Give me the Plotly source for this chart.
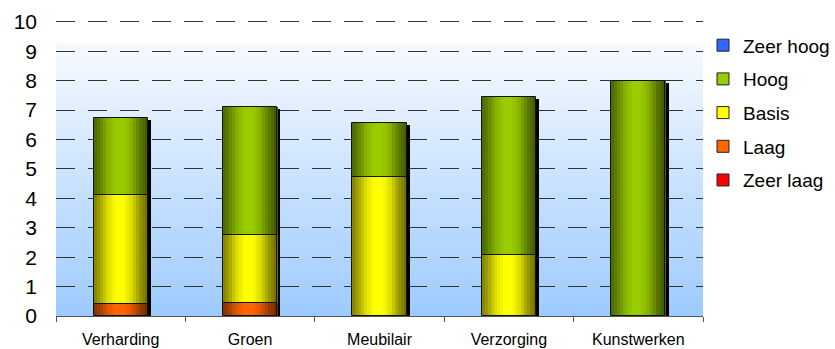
import numpy as np
import plotly.graph_objects as go

# ---------------- data ----------------
categories = ["Verharding", "Groen", "Meubilair", "Verzorging", "Kunstwerken"]
zeer_laag = [0, 0, 0, 0, 0]
laag = [0.41, 0.45, 0, 0, 0]
basis = [3.69, 2.31, 4.71, 2.07, 0]
hoog = [2.63, 4.35, 1.84, 5.37, 8.0]
zeer_hoog = [0, 0, 0, 0, 0]
y_ticks = [0, 1, 2, 3, 4, 5, 6, 7, 8, 9, 10]

series_names = ["Zeer laag", "Laag", "Basis", "Hoog", "Zeer hoog"]
series_values = [zeer_laag, laag, basis, hoog, zeer_hoog]
series_colors = ["#FF0000", "#FF6600", "#FFFF00", "#99CC00", "#3366FF"]

# ---------------- style ----------------
FONT = "Liberation Sans, Arial, sans-serif"
BAR_W = 0.42
N_SLICES = 18
shade_t = [0.0, 0.1, 0.25, 0.4, 0.55, 0.7, 0.85, 1.0]
shade_f = [0.50, 0.62, 0.86, 1.0, 1.0, 0.86, 0.60, 0.42]


def hex_rgb(h):
    h = h.lstrip("#")
    return [int(h[i:i + 2], 16) for i in (0, 2, 4)]


def shade(hexcol, f):
    r, g, b = hex_rgb(hexcol)
    return "rgb(%d,%d,%d)" % (int(r * f), int(g * f), int(b * f))


fig = go.Figure()

# legend entries (top to bottom)
for name, col in reversed(list(zip(series_names, series_colors))):
    fig.add_trace(go.Bar(
        x=[None], y=[None], name=name, legendgroup=name,
        marker=dict(color=col, line=dict(color="#222222", width=1)),
        showlegend=True, hoverinfo="skip"))

# totals and bases
vals = np.array(series_values, dtype=float)
bases = np.vstack([np.zeros(len(categories)), np.cumsum(vals, axis=0)[:-1]])
totals = vals.sum(axis=0)

# shadow
fig.add_trace(go.Bar(
    x=categories, y=totals - 0.07, base=[0] * len(categories),
    width=BAR_W, offset=-BAR_W / 2 + 0.024,
    marker=dict(color="#000000", line=dict(width=0)),
    showlegend=False, hoverinfo="skip"))

# shaded slices
slice_w = BAR_W / N_SLICES
for si, (name, col) in enumerate(zip(series_names, series_colors)):
    v = [x if x > 0 else None for x in vals[si]]
    if all(x is None for x in v):
        continue
    for k in range(N_SLICES):
        t = (k + 0.5) / N_SLICES
        f = float(np.interp(t, shade_t, shade_f))
        fig.add_trace(go.Bar(
            x=categories, y=v, base=list(bases[si]),
            width=slice_w * 1.12, offset=-BAR_W / 2 + k * slice_w,
            marker=dict(color=shade(col, f), line=dict(width=0)),
            legendgroup=name, showlegend=False, hoverinfo="skip"))

# outlines
for si, name in enumerate(series_names):
    v = [x if x > 0 else None for x in vals[si]]
    if all(x is None for x in v):
        continue
    fig.add_trace(go.Bar(
        x=categories, y=v, base=list(bases[si]),
        width=BAR_W, offset=-BAR_W / 2,
        marker=dict(color="rgba(0,0,0,0)", line=dict(color="#111111", width=1)),
        legendgroup=name, showlegend=False, hoverinfo="skip"))

# background gradient
top_rgb = np.array([248, 251, 255])
bot_rgb = np.array([157, 203, 255])
g_top = 9.3
n_bands = 93
shapes = []
for i in range(n_bands):
    y0 = g_top * i / n_bands
    y1 = g_top * (i + 1) / n_bands + 0.02
    t = (i + 0.5) / n_bands
    c = bot_rgb + (top_rgb - bot_rgb) * t
    shapes.append(dict(type="rect", xref="paper", yref="y", x0=0, x1=1,
                       y0=y0, y1=min(y1, g_top), layer="below",
                       line=dict(width=0),
                       fillcolor="rgb(%d,%d,%d)" % tuple(c.astype(int))))

fig.update_layout(
    width=835, height=349,
    margin=dict(l=56, r=132, t=13, b=33, autoexpand=False),
    paper_bgcolor="white", plot_bgcolor="rgba(0,0,0,0)",
    barmode="overlay", bargap=0,
    shapes=shapes,
    font=dict(family=FONT, color="#000000"),
    legend=dict(x=1.0, xanchor="left", y=0.956, yanchor="top",
                font=dict(size=19, family=FONT), tracegroupgap=6,
                traceorder="grouped", itemwidth=30,
                bgcolor="rgba(0,0,0,0)"),
    xaxis=dict(type="category", categoryorder="array", categoryarray=categories,
               range=[-0.5, len(categories) - 0.5],
               showline=True, linecolor="#555555", linewidth=1,
               ticks="outside", tickson="boundaries", ticklen=5,
               tickcolor="#555555", showgrid=False, automargin=False,
               ticklabelstandoff=9,
               tickfont=dict(size=16, family=FONT)),
    yaxis=dict(range=[0, 10.3], tickvals=y_ticks, showgrid=True,
               gridcolor="#333333", gridwidth=1, griddash="19px,13px",
               zeroline=False, showline=False, ticks="", automargin=False,
               ticklabelstandoff=18,
               tickfont=dict(size=21, family=FONT)),
)

fig.write_html("out.html")
